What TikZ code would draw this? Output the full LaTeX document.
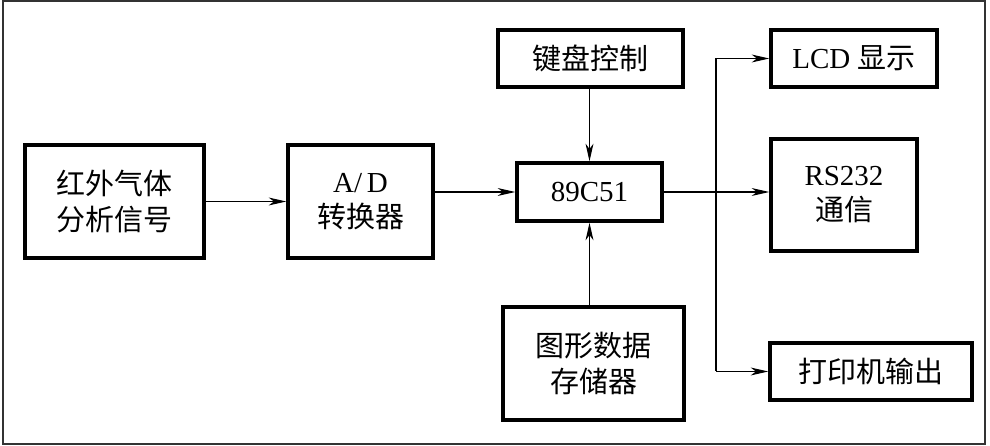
\documentclass[tikz,border=0pt]{standalone}
\usepackage{fontspec}
\setmainfont{Liberation Serif}
\newfontfamily\cjk{Noto Sans CJK SC}
\usetikzlibrary{arrows.meta, positioning}
\newcommand{\zh}[1]{{\cjk #1}}

\begin{document}
\begin{tikzpicture}[font=\fontsize{16.5}{20}\selectfont,
    block/.style={draw, line width=2pt, align=center, inner sep=0pt},
    link/.style={line width=0.6pt, -{Stealth[length=10pt, width=4.5pt, inset=3pt]}}]
    % Frame
    \useasboundingbox (0,0) rectangle (19.8,8.92);
    \draw[line width=0.8pt, black!80] (0.06,0.04) rectangle (19.7,8.9);
    % Input chain
    \node[block, minimum width=3.58cm, minimum height=2.26cm] (sig) at (2.29,4.89) {\zh{红外气体}\\\zh{分析信号}};
    \node[block, minimum width=2.9cm, minimum height=2.26cm] (ad) at (7.21,4.89) {A/\,D\\\zh{转换器}};
    \node[block, minimum width=2.9cm, minimum height=1.16cm] (cpu) at (11.79,5.08) {89C51};
    \node[block, minimum width=3.7cm, minimum height=1.14cm] (kbd) at (11.81,7.75) {\zh{键盘控制}};
    \node[block, minimum width=3.62cm, minimum height=2.26cm] (mem) at (11.87,1.65) {\zh{图形数据}\\\zh{存储器}};
    % Outputs
    \node[block, minimum width=3.32cm, minimum height=1.14cm] (lcd) at (17.08,7.75) {LCD \zh{显示}};
    \node[block, minimum width=2.92cm, minimum height=2.24cm] (rs) at (16.88,5.02) {RS232\\\zh{通信}};
    \node[block, minimum width=4.04cm, minimum height=1.14cm] (prn) at (17.42,1.49) {\zh{打印机输出}};
    \coordinate (bus) at (14.32,5.08);
    % Connections
    \draw[link] (sig.east) -- (ad.west);
    \draw[link] (ad.east |- cpu.west) -- (cpu.west);
    \draw[link] (kbd.south -| cpu.north) -- (cpu.north);
    \draw[link] (mem.north -| cpu.south) -- (cpu.south);
    \draw[link] (cpu.east) -- (cpu.east -| rs.west);
    \draw[line width=0.6pt] (bus |- lcd.west) -- (bus |- prn.west);
    \draw[link] (bus |- lcd.west) -- (lcd.west);
    \draw[link] (bus |- prn.west) -- (prn.west);
\end{tikzpicture}
\end{document}
